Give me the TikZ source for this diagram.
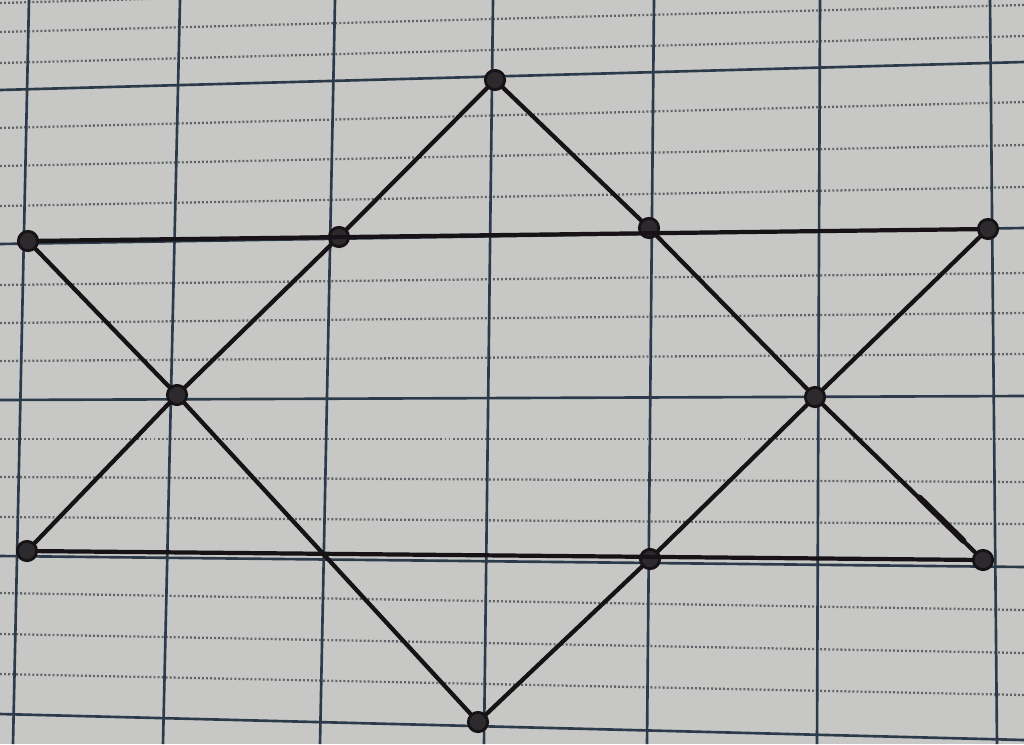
\documentclass[tikz,border=0pt]{standalone}
\usetikzlibrary{calc}
\definecolor{paper}{RGB}{199,200,198}
\definecolor{rule}{RGB}{44,58,74}
\definecolor{faint}{RGB}{96,99,104}
\definecolor{ink}{RGB}{22,18,22}
\tikzset{
    major/.style={rule, line width=1.5pt},
    minor/.style={faint, line width=1.3pt, dash pattern=on 1.1pt off 1.2pt},
    pen/.style={ink, line width=2.4pt, line cap=round},
    dot/.style={circle, draw=ink, fill=ink!90, line width=1.6pt, inner sep=0pt, minimum size=11pt}
}
\begin{document}
\begin{tikzpicture}[x=0.02cm, y=-0.02cm]
    \fill[paper] (0,0) rectangle (1024,744);
    \useasboundingbox (0,0) rectangle (1024,744);
    \begin{scope}
    \clip (0,0) rectangle (1024,744);
    \foreach \l/\r in {3/-25, 32/5, 63/36, 128/102, 166/145, 206/187, 285/273, 323/313, 361/354,
        439/439, 477/482, 517/524, 593/610, 634/653, 674/695}
        \draw[minor] (0,\l) -- (1024,\r);
    \foreach \l/\r in {90/62, 244/228, 400/396, 556/567, 714/740}
        \draw[major] (0,\l) -- (1024,\r);
    \foreach \t/\b in {29/13, 180/163, 335/320, 493/484, 654/647, 820/817, 990/997}
        \draw[major] (\t,0) -- (\b,744);
    \end{scope}
    \node[dot] (T) at (495,80) {};
    \node[dot] (UL) at (28,241) {};
    \node[dot] (UA) at (339,237) {};
    \node[dot] (UB) at (649,228) {};
    \node[dot] (UR) at (988,229) {};
    \node[dot] (ML) at (177,395) {};
    \node[dot] (MR) at (815,397) {};
    \node[dot] (LL) at (27,551) {};
    \node[dot] (LB) at (650,559) {};
    \node[dot] (LR) at (983,560) {};
    \node[dot] (B) at (478,722) {};
    \draw[pen] (T) -- (UA) -- (ML) -- (LL);
    \draw[pen] (T) -- (UB) -- (MR) -- (LR);
    \draw[pen] (UL) -- (ML) -- (B);
    \draw[pen] (UR) -- (MR) -- (LB) -- (B);
    \draw[pen] (UL) -- (UR);
    \draw[pen] (LL) -- (LR);
    \draw[pen, line width=3.4pt] ($(T)!0.87!(LR)$) -- ($(T)!0.96!(LR)$);
\end{tikzpicture}
\end{document}
